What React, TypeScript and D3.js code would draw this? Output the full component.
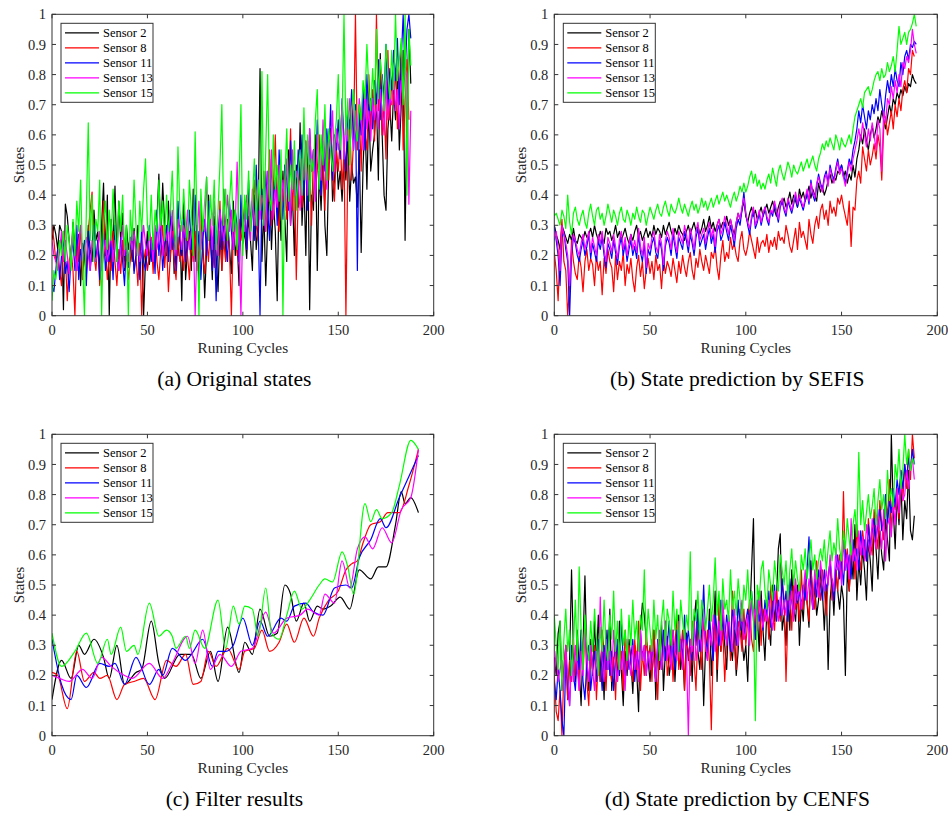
import React from 'react';
import * as d3 from 'd3';

const SENSORS = ['Sensor 2', 'Sensor 8', 'Sensor 11', 'Sensor 13', 'Sensor 15'];
const COLORS = ['#000000', '#ff0000', '#0000ff', '#ff00ff', '#00ff00'];
const X_TICKS = [0, 50, 100, 150, 200];
const Y_TICKS = [0, 0.1, 0.2, 0.3, 0.4, 0.5, 0.6, 0.7, 0.8, 0.9, 1];
const CAPTIONS = ['(a) Original states', '(b) State prediction by SEFIS', '(c) Filter results', '(d) State prediction by CENFS'];
const X_LABEL = 'Runing Cycles';
const Y_LABEL = 'States';

// (a) Original states
const a_s2 = [.25,.30,.27,.22,.30,.28,.02,.37,.33,.25,.18,.31,.22,.15,.27,.10,.24,.20,.13,.30,.22,.18,.35,.25,.28,.14,.30,.44,.20,.40,.00,.32,.22,.43,.18,.38,.25,.34,.15,.30,.22,.26,.18,.29,.20,.30,.15,.26,.00,.19,.28,.17,.22,.24,.18,.32,.47,.25,.44,.30,.20,.38,.18,.33,.14,.25,.20,.30,.05,.38,.12,.22,.28,.15,.42,.18,.30,.10,.36,.25,.06,.22,.40,.28,.12,.33,.20,.08,.28,.15,.42,.18,.32,.22,.14,.38,.20,.25,.10,.35,.24,.28,.19,.33,.25,.15,.40,.22,.30,.82,.18,.35,.10,.30,.45,.22,.38,.28,.05,.42,.25,.48,.32,.18,.55,.30,.40,.20,.50,.36,.64,.30,.45,.20,.58,.02,.40,.35,.60,.15,.48,.35,.55,.30,.20,.50,.62,.38,.45,.55,.42,.48,.38,.52,.45,.60,.38,.50,.44,.46,.36,.55,.21,.50,.65,.42,.70,.48,.55,.60,.72,.45,.87,.60,.40,.35,.62,.70,.58,.75,.65,.80,.55,.70,.88,.25,.70,.95,.77];
const a_s8 = [.30,.25,.18,.22,.15,.10,.28,.20,.05,.18,.22,.15,.00,.25,.18,.30,.12,.22,.15,.28,.35,.41,.20,.15,.25,.10,.18,.38,.22,.12,.20,.15,.28,.18,.10,.22,.14,.25,.16,.20,.12,.18,.25,.15,.20,.10,.24,.00,.18,.22,.15,.20,.26,.14,.28,.18,.12,.22,.30,.16,.25,.08,.20,.28,.18,.12,.26,.18,.22,.15,.30,.20,.12,.25,.18,.28,.15,.22,.35,.20,.14,.26,.18,.30,.22,.16,.28,.20,.38,.15,.25,.18,.30,.22,.00,.28,.35,.20,.32,.25,.30,.38,.22,.42,.28,.35,.45,.30,.25,.40,.32,.48,.28,.38,.55,.30,.42,.60,.35,.28,.45,.38,.50,.32,.42,.62,.35,.48,.12,.40,.52,.36,.45,.58,.38,.50,.30,.55,.42,.48,.60,.40,.52,.35,.58,.45,.62,.50,.38,.55,.48,.60,.42,.55,.00,.50,.65,.45,.58,1.0,.55,.68,.48,.72,.60,.55,.80,.62,.75,.58,1.0,.68,.85,.60,.70,.52,.88,.65,.78,.70,.82,.62,.75,.90,.55,.70,.85,.65];
const a_s11 = [.10,.08,.15,.22,.12,.20,.26,.14,.18,.08,.20,.25,.15,.30,.12,.22,.18,.25,.10,.28,.15,.22,.30,.18,.25,.12,.20,.28,.15,.22,.18,.25,.12,.30,.20,.15,.26,.18,.10,.24,.16,.22,.28,.14,.20,.25,.12,.30,.18,.15,.22,.30,.18,.25,.14,.35,.20,.28,.15,.24,.30,.18,.35,.22,.28,.15,.38,.25,.20,.32,.18,.25,.35,.22,.30,.40,.20,.28,.12,.25,.32,.20,.38,.25,.15,.30,.05,.28,.35,.22,.30,.25,.18,.38,.28,.22,.35,.30,.18,.40,.28,.35,.22,.45,.30,.38,.25,.50,.32,.00,.42,.30,.48,.35,.25,.52,.38,.45,.30,.55,.40,.32,.50,.45,.35,.58,.42,.48,.38,.55,.45,.60,.40,.52,.35,.62,.48,.55,.42,.65,.50,.40,.58,.48,.62,.52,.70,.45,.60,.55,.65,.52,.72,.58,.48,.68,.62,.75,.55,.70,.15,.68,.60,.75,.55,.80,.65,.72,.62,.78,.70,.85,.65,.80,.72,.90,.68,.82,.75,.88,.78,.92,.70,.85,1.0,.80,.95,1.0,.92];
const a_s13 = [.25,.20,.18,.15,.22,.28,.18,.25,.20,.14,.22,.28,.20,.15,.25,.30,.18,.22,.26,.20,.15,.25,.20,.18,.22,.28,.15,.20,.25,.18,.22,.28,.18,.25,.20,.15,.22,.30,.20,.25,.18,.26,.22,.28,.20,.25,.18,.22,.30,.24,.20,.28,.25,.18,.30,.22,.26,.32,.20,.28,.25,.30,.22,.35,.25,.20,.32,.28,.22,.30,.26,.35,.22,.28,.30,.00,.25,.38,.22,.30,.28,.46,.25,.32,.22,.38,.28,.20,.35,.30,.25,.32,.40,.28,.35,.22,.30,.51,.25,.00,.32,.28,.40,.35,.25,.42,.30,.38,.45,.32,.40,.35,.28,.48,.38,.55,.32,.42,.36,.50,.38,.45,.35,.52,.42,.30,.55,.40,.48,.44,.35,.52,.45,.58,.40,.62,.48,.55,.38,.60,.50,.45,.65,.52,.42,.58,.55,.68,.48,.62,.55,.60,.70,.52,.65,.58,.72,.62,.55,.68,.60,.72,.65,.55,.75,.62,.68,.58,.72,.65,.70,.62,.75,.68,.60,.78,.65,.72,.70,.80,.68,.75,.62,.78,.72,.82,.80,.37,.68];
const a_s15 = [.05,.15,.12,.18,.25,.20,.28,.18,.30,.25,.15,.32,.20,.38,.28,.45,.18,.00,.35,.64,.25,.40,.18,.32,.28,.45,.00,.30,.38,.22,.35,.25,.42,.30,.18,.38,.28,.40,.22,.30,.00,.35,.25,.45,.30,.20,.38,.28,.42,.52,.30,.25,.40,.22,.35,.28,.45,.30,.38,.25,.40,.28,.35,.48,.30,.22,.56,.35,.28,.42,.30,.25,.45,.35,.20,.61,.30,.00,.42,.28,.38,.46,.25,.40,.30,.45,.22,.35,.50,.70,.30,.42,.25,.38,.48,.28,.35,.22,.45,.70,.20,.40,.32,.48,.28,.38,.52,.30,.45,.35,.81,.30,.55,.80,.40,.35,.60,.42,.50,.38,.55,.00,.45,.62,.38,.50,.42,.58,.35,.48,.55,.40,.69,.45,.60,.38,.52,.48,.65,.75,.42,.60,.50,.70,.45,.62,.55,.48,.58,.65,.80,.55,.65,1.0,.60,.72,.50,.68,.75,.62,.58,.70,.65,.78,.72,.90,.75,.68,.82,.70,.95,.72,.85,.78,.68,.90,.80,.72,.88,.75,1.0,.78,.85,.92,.70,1.0,.40,.95,.83];

// (b) State prediction by SEFIS
const b_s2 = [.30,.27,.25,.22,.30,.28,.26,.24,.27,.25,.29,.25,.24,.27,.26,.25,.28,.26,.27,.29,.26,.30,.27,.25,.28,.26,.24,.29,.27,.28,.25,.27,.30,.26,.28,.25,.27,.29,.26,.24,.27,.25,.28,.30,.26,.28,.25,.27,.29,.26,.28,.26,.30,.27,.29,.28,.26,.30,.27,.29,.31,.28,.26,.29,.27,.30,.28,.27,.25,.28,.30,.27,.29,.31,.28,.30,.27,.29,.32,.28,.30,.33,.29,.31,.28,.30,.32,.29,.31,.30,.33,.30,.32,.29,.27,.31,.34,.32,.35,.38,.33,.31,.34,.36,.33,.35,.32,.34,.36,.33,.35,.37,.34,.36,.38,.35,.33,.36,.38,.37,.39,.36,.38,.41,.37,.40,.38,.36,.42,.39,.41,.38,.40,.43,.39,.42,.40,.38,.44,.41,.43,.40,.42,.45,.47,.44,.46,.45,.48,.47,.50,.46,.48,.44,.47,.45,.50,.46,.52,.55,.60,.57,.62,.58,.55,.60,.63,.59,.62,.66,.64,.68,.65,.62,.66,.70,.67,.72,.70,.74,.72,.75,.73,.76,.74,.77,.76,.80,.78,.77];
const b_s8 = [.21,.15,.05,.22,.32,.18,.15,.00,.10,.25,.18,.14,.12,.20,.16,.08,.18,.22,.15,.19,.17,.10,.20,.15,.18,.07,.19,.14,.22,.18,.16,.08,.20,.12,.18,.15,.21,.10,.17,.14,.19,.12,.08,.16,.20,.13,.18,.09,.15,.19,.14,.18,.12,.20,.15,.17,.09,.19,.14,.18,.16,.13,.19,.15,.11,.18,.14,.20,.16,.13,.18,.21,.15,.12,.19,.16,.22,.18,.15,.20,.17,.14,.21,.19,.23,.16,.12,.20,.25,.18,.21,.19,.26,.22,.24,.20,.18,.25,.28,.22,.20,.23,.28,.25,.22,.19,.26,.21,.24,.25,.23,.27,.21,.25,.23,.26,.22,.28,.25,.26,.24,.30,.27,.23,.21,.25,.29,.22,.31,.26,.28,.25,.22,.32,.27,.24,.30,.33,.29,.35,.37,.32,.35,.30,.38,.34,.36,.33,.39,.37,.40,.36,.33,.30,.38,.23,.36,.35,.45,.48,.44,.56,.52,.48,.55,.50,.53,.57,.52,.60,.56,.45,.62,.66,.60,.64,.68,.62,.70,.66,.72,.68,.75,.78,.74,.82,.80,.88,.86];
const b_s11 = [.30,.25,.20,.10,.26,.28,.22,.18,.00,.20,.26,.24,.20,.18,.22,.25,.20,.23,.27,.19,.24,.21,.18,.25,.22,.26,.20,.16,.24,.22,.19,.25,.21,.17,.23,.26,.20,.24,.18,.22,.25,.20,.23,.19,.27,.21,.18,.24,.14,.22,.20,.24,.26,.21,.19,.25,.22,.15,.23,.26,.24,.20,.27,.23,.19,.26,.24,.22,.28,.25,.21,.27,.24,.20,.26,.29,.23,.25,.27,.22,.26,.29,.24,.27,.21,.28,.30,.25,.27,.31,.28,.25,.30,.27,.23,.29,.32,.30,.35,.41,.34,.30,.27,.32,.35,.29,.31,.34,.30,.33,.36,.32,.30,.35,.33,.37,.34,.31,.36,.38,.35,.33,.38,.36,.34,.37,.40,.36,.39,.37,.35,.38,.41,.37,.45,.40,.38,.43,.47,.44,.42,.46,.48,.44,.50,.47,.45,.49,.52,.48,.50,.47,.44,.48,.52,.50,.55,.58,.62,.68,.64,.70,.66,.62,.68,.65,.70,.67,.72,.68,.75,.70,.66,.73,.78,.74,.80,.76,.82,.78,.76,.84,.80,.86,.88,.85,.90,.89,.91,.90];
const b_s13 = [.25,.28,.22,.15,.30,.27,.24,.20,.10,.22,.27,.25,.22,.20,.24,.27,.22,.25,.28,.21,.26,.23,.20,.27,.24,.28,.22,.18,.26,.24,.21,.27,.23,.19,.25,.28,.22,.26,.20,.24,.27,.22,.25,.21,.29,.23,.20,.26,.16,.24,.22,.26,.28,.23,.21,.27,.24,.17,.25,.28,.26,.22,.29,.25,.21,.28,.26,.24,.30,.27,.23,.29,.26,.22,.28,.31,.25,.27,.29,.24,.28,.31,.26,.29,.23,.30,.32,.27,.29,.33,.30,.27,.32,.29,.25,.31,.34,.32,.36,.39,.34,.31,.29,.33,.36,.30,.32,.35,.31,.34,.36,.33,.31,.35,.34,.38,.35,.32,.37,.39,.36,.34,.39,.37,.35,.38,.41,.37,.40,.38,.36,.39,.42,.38,.44,.41,.39,.44,.46,.43,.41,.45,.47,.43,.49,.46,.44,.48,.51,.47,.49,.46,.43,.47,.51,.48,.52,.55,.58,.62,.58,.64,.60,.56,.62,.58,.64,.60,.55,.65,.62,.48,.68,.64,.72,.70,.76,.72,.78,.74,.80,.76,.84,.82,.86,.84,.88,.95,.90,.87];
const b_s15 = [.33,.34,.32,.30,.35,.33,.29,.40,.31,.27,.34,.36,.32,.30,.33,.35,.31,.29,.34,.37,.33,.30,.35,.36,.32,.34,.30,.33,.37,.34,.31,.35,.33,.30,.34,.36,.32,.31,.35,.33,.30,.34,.32,.36,.33,.31,.35,.34,.30,.33,.36,.34,.32,.35,.37,.34,.33,.36,.38,.35,.33,.37,.35,.34,.36,.39,.36,.34,.37,.35,.33,.36,.38,.35,.37,.34,.36,.39,.36,.38,.35,.37,.39,.36,.38,.40,.37,.39,.41,.38,.40,.38,.36,.39,.41,.38,.40,.43,.41,.44,.41,.43,.46,.48,.44,.47,.43,.45,.42,.44,.42,.45,.47,.44,.49,.46,.43,.48,.50,.47,.45,.48,.51,.49,.46,.50,.48,.47,.49,.51,.48,.50,.52,.49,.51,.53,.50,.48,.52,.54,.57,.55,.58,.56,.59,.57,.55,.60,.58,.55,.59,.57,.56,.58,.60,.57,.62,.66,.68,.70,.72,.69,.74,.75,.76,.73,.75,.78,.80,.81,.78,.82,.79,.80,.84,.81,.83,.86,.81,.88,.96,.90,.92,.94,.90,.94,.95,.97,1.0,.96];

// (c) Filter results: [cycle, state]
const c_s2 = [[0,.12],[5,.25],[10,.19],[14,.30],[17,.27],[22,.32],[27,.26],[30,.19],[34,.30],[38,.17],[44,.21],[47,.22],[52,.38],[56,.24],[59,.19],[67,.27],[73,.27],[78,.19],[83,.28],[87,.18],[92,.36],[98,.21],[101,.31],[105,.27],[109,.42],[114,.33],[118,.34],[122,.50],[125,.47],[128,.38],[132,.44],[135,.38],[139,.43],[142,.42],[146,.43],[151,.46],[156,.42],[161,.55],[167,.52],[171,.56],[175,.56],[180,.70],[183,.81],[185,.77],[188,.79],[192,.74]];
const c_s8 = [[0,.21],[3,.20],[8,.09],[13,.28],[17,.18],[22,.21],[25,.19],[29,.20],[34,.12],[38,.17],[43,.18],[48,.19],[54,.12],[60,.25],[65,.23],[70,.27],[74,.17],[78,.18],[82,.28],[86,.23],[92,.29],[98,.22],[101,.28],[106,.29],[110,.35],[114,.28],[119,.31],[123,.37],[127,.31],[132,.39],[137,.33],[140,.39],[145,.45],[150,.48],[154,.55],[157,.57],[160,.58],[163,.64],[167,.70],[172,.71],[176,.74],[182,.74],[187,.83],[192,.95]];
const c_s11 = [[0,.32],[5,.17],[10,.12],[13,.20],[18,.16],[25,.24],[30,.23],[33,.24],[38,.17],[44,.26],[51,.17],[56,.22],[58,.20],[63,.29],[70,.25],[73,.27],[79,.32],[84,.23],[87,.28],[91,.28],[95,.30],[100,.39],[105,.30],[109,.38],[113,.33],[120,.39],[123,.38],[127,.43],[133,.44],[137,.41],[142,.40],[148,.49],[154,.50],[157,.49],[161,.59],[167,.65],[172,.72],[175,.69],[182,.79],[187,.86],[192,.93]];
const c_s13 = [[0,.20],[4,.19],[9,.18],[16,.22],[21,.19],[26,.26],[31,.23],[38,.20],[42,.19],[51,.24],[58,.19],[63,.24],[71,.33],[75,.24],[79,.35],[83,.22],[88,.27],[94,.23],[99,.28],[105,.29],[112,.41],[116,.34],[123,.39],[130,.40],[134,.42],[140,.40],[143,.47],[148,.44],[152,.58],[156,.49],[160,.62],[164,.66],[168,.62],[173,.69],[178,.64],[183,.75],[188,.79],[192,.95]];
const c_s15 = [[0,.34],[5,.23],[12,.28],[18,.34],[24,.24],[29,.32],[31,.27],[36,.36],[39,.28],[43,.30],[45,.27],[51,.44],[56,.33],[60,.35],[63,.33],[65,.29],[70,.33],[72,.29],[75,.35],[80,.29],[87,.45],[91,.29],[95,.43],[98,.37],[101,.43],[105,.42],[108,.33],[112,.49],[115,.34],[119,.32],[123,.40],[127,.48],[131,.42],[135,.45],[140,.50],[143,.52],[147,.51],[152,.61],[155,.56],[158,.47],[164,.77],[167,.71],[170,.75],[173,.72],[178,.74],[182,.83],[188,.98],[192,.95]];

// (d) State prediction by CENFS
const d_s2 = [.26,.20,.34,.38,.15,.22,.30,.12,.25,.55,.28,.18,.35,.22,.10,.30,.53,.25,.15,.32,.20,.38,.25,.40,.18,.28,.12,.35,.22,.42,.15,.25,.30,.18,.38,.22,.10,.28,.20,.32,.25,.14,.30,.22,.08,.35,.44,.40,.32,.25,.18,.28,.35,.12,.30,.22,.38,.15,.28,.33,.20,.25,.35,.18,.30,.40,.22,.28,.15,.34,.25,.32,.18,.38,.45,.28,.22,.35,.10,.30,.25,.42,.20,.32,.48,.18,.36,.28,.40,.30,.22,.38,.30,.25,.35,.20,.28,.42,.32,.25,.30,.18,.38,.55,.72,.32,.40,.28,.48,.35,.25,.42,.36,.30,.50,.38,.45,.62,.67,.35,.40,.30,.48,.35,.55,.42,.38,.50,.30,.45,.38,.52,.44,.36,.58,.42,.50,.40,.45,.55,.48,.35,.50,.22,.45,.52,.40,.55,.48,.42,.50,.45,.20,.55,.48,.60,.52,.70,.45,.58,.50,.62,.55,.45,.65,.58,.48,.70,.62,.52,.68,.60,.55,.72,.65,.58,1.0,.75,.62,.80,.70,.85,.65,.78,.72,.88,.68,.65,.73];
const d_s8 = [.20,.08,.05,.15,.00,.22,.30,.12,.25,.18,.32,.20,.28,.15,.35,.22,.38,.18,.10,.28,.22,.30,.12,.25,.18,.35,.28,.15,.30,.22,.18,.26,.12,.32,.20,.28,.15,.35,.22,.30,.25,.18,.32,.22,.38,.15,.28,.20,.35,.25,.30,.18,.35,.25,.12,.32,.22,.28,.38,.20,.25,.35,.18,.30,.40,.22,.28,.35,.15,.32,.28,.20,.38,.25,.15,.35,.30,.22,.40,.28,.35,.25,.02,.30,.38,.22,.45,.28,.35,.18,.32,.40,.25,.48,.30,.22,.38,.35,.28,.42,.30,.38,.45,.32,.28,.40,.35,.48,.30,.42,.38,.45,.32,.50,.40,.35,.48,.42,.38,.52,.45,.18,.40,.48,.35,.52,.42,.46,.38,.55,.42,.50,.45,.38,.55,.48,.42,.58,.50,.45,.55,.48,.40,.52,.58,.45,.50,.55,.48,.60,.52,.81,.55,.62,.48,.58,.65,.52,.70,.60,.55,.68,.62,.58,.72,.65,.60,.75,.68,.62,.78,.70,.65,.80,.72,.85,.68,.78,.75,.82,.72,.88,.78,.90,.82,.95,.85,1.0,.92];
const d_s11 = [.18,.12,.22,.15,.05,.00,.25,.18,.10,.30,.20,.15,.28,.22,.35,.18,.12,.25,.30,.15,.22,.28,.18,.32,.25,.15,.30,.22,.35,.20,.28,.15,.25,.32,.20,.38,.25,.18,.30,.22,.26,.32,.18,.28,.22,.35,.25,.30,.20,.28,.22,.30,.25,.18,.32,.28,.22,.35,.25,.30,.38,.25,.30,.22,.35,.28,.32,.25,.40,.30,.35,.28,.25,.38,.30,.42,.28,.35,.50,.32,.28,.38,.32,.25,.40,.35,.30,.45,.38,.32,.40,.35,.28,.42,.38,.30,.45,.35,.40,.32,.38,.42,.35,.48,.40,.32,.45,.38,.42,.35,.45,.40,.48,.36,.42,.50,.38,.45,.40,.52,.42,.48,.38,.52,.45,.40,.50,.44,.48,.42,.50,.45,.55,.66,.48,.42,.52,.46,.55,.50,.45,.55,.48,.52,.58,.50,.45,.55,.60,.52,.58,.50,.62,.55,.60,.52,.65,.58,.62,.55,.68,.60,.65,.58,.70,.62,.68,.72,.65,.70,.75,.68,.72,.80,.70,.78,.74,.82,.76,.85,.80,.88,.82,.90,.85,.92,.88,.95,.90];
const d_s13 = [.20,.28,.18,.22,.25,.15,.30,.20,.10,.25,.18,.30,.22,.15,.28,.20,.35,.25,.18,.30,.22,.15,.28,.20,.46,.25,.18,.32,.22,.28,.20,.35,.25,.18,.30,.22,.28,.15,.32,.25,.20,.30,.22,.28,.18,.35,.25,.30,.20,.28,.22,.32,.25,.18,.30,.35,.22,.28,.38,.25,.30,.22,.35,.28,.25,.38,.30,.22,.35,.28,.00,.32,.28,.38,.25,.30,.35,.28,.42,.30,.25,.35,.30,.40,.28,.32,.38,.30,.45,.35,.30,.40,.33,.28,.42,.35,.30,.38,.45,.32,.35,.40,.30,.45,.38,.42,.35,.48,.40,.36,.42,.38,.45,.40,.35,.48,.42,.38,.46,.40,.45,.40,.50,.42,.48,.38,.52,.45,.50,.42,.48,.55,.45,.52,.48,.42,.55,.50,.46,.58,.52,.48,.55,.50,.60,.52,.48,.62,.55,.58,.50,.65,.55,.60,.52,.72,.58,.62,.55,.68,.60,.66,.58,.70,.64,.60,.72,.66,.62,.75,.68,.62,.75,.58,.70,.72,.66,.78,.70,.82,.74,.85,.78,.80,.88,.82,.90,.92,.85];
const d_s15 = [.40,.30,.22,.38,.15,.32,.42,.28,.35,.20,.30,.45,.25,.56,.35,.22,.40,.30,.25,.38,.28,.42,.32,.20,.36,.28,.45,.30,.25,.40,.32,.48,.28,.38,.22,.42,.30,.35,.25,.40,.30,.45,.32,.38,.28,.40,.35,.55,.30,.42,.35,.28,.45,.32,.40,.25,.38,.45,.30,.42,.38,.30,.48,.35,.42,.28,.45,.38,.32,.40,.35,.61,.30,.42,.38,.48,.32,.45,.40,.35,.42,.50,.38,.45,.59,.40,.48,.35,.52,.42,.45,.38,.55,.42,.48,.40,.52,.45,.38,.50,.45,.55,.42,.48,.40,.05,.50,.45,.55,.58,.48,.42,.55,.50,.45,.58,.52,.48,.60,.55,.50,.58,.45,.55,.62,.50,.58,.52,.48,.60,.55,.62,.52,.58,.65,.55,.60,.52,.58,.62,.58,.65,.55,.62,.68,.58,.64,.60,.72,.62,.58,.68,.62,.72,.65,.60,.70,.75,.66,.94,.70,.78,.68,.74,.80,.72,.76,.82,.70,.78,.85,.75,.80,.72,.88,.78,.82,.76,.90,.85,.95,.82,.88,1.0,.90,.95,.88,.92,.90];

const idx = (arr: number[]) => arr.map((v, i) => [i, v] as [number, number]);

const PANEL_DATA = [
  { series: [a_s2, a_s8, a_s11, a_s13, a_s15].map(idx), smooth: false },
  { series: [b_s2, b_s8, b_s11, b_s13, b_s15].map(idx), smooth: false },
  { series: [c_s2, c_s8, c_s11, c_s13, c_s15] as [number, number][][], smooth: true },
  { series: [d_s2, d_s8, d_s11, d_s13, d_s15].map(idx), smooth: false },
];

const LAYOUT = [
  { left: 52, top: 14.3, w: 381.7, h: 301.4 },
  { left: 554.3, top: 14.3, w: 383, h: 301.4 },
  { left: 52, top: 434.3, w: 381.7, h: 301.4 },
  { left: 554.3, top: 434.3, w: 383, h: 301.4 },
];

const FONT = "'Liberation Serif', 'Times New Roman', Times, serif";
const AX = '#333333';

function Panel({ k, left, top, w, h, series, smooth, caption }: any) {
  const x = d3.scaleLinear().domain([0, 200]).range([0, w]);
  const y = d3.scaleLinear().domain([0, 1]).range([h, 0]);
  const line = d3.line<[number, number]>().x(d => x(d[0])).y(d => y(d[1]));
  if (smooth) line.curve(d3.curveMonotoneX);
  const fmt = d3.format('~g');
  const clipId = `clip-${k}`;
  return (
    <g transform={`translate(${left},${top})`}>
      <defs>
        <clipPath id={clipId}><rect x={0} y={0} width={w} height={h} /></clipPath>
      </defs>
      <g clipPath={`url(#${clipId})`}>
        {series.map((s: [number, number][], i: number) => (
          <path key={i} d={line(s) || ''} fill="none" stroke={COLORS[i]} strokeWidth={1.2} strokeLinejoin="round" />
        ))}
      </g>
      <rect x={0} y={0} width={w} height={h} fill="none" stroke={AX} strokeWidth={1} />
      {X_TICKS.map(t => (
        <g key={`x${t}`}>
          <line x1={x(t)} x2={x(t)} y1={h} y2={h - 4} stroke={AX} />
          <line x1={x(t)} x2={x(t)} y1={0} y2={4} stroke={AX} />
          <text x={x(t)} y={h + 19.5} textAnchor="middle" fontSize={14.5} fill="#262626" fontFamily={FONT}>{fmt(t)}</text>
        </g>
      ))}
      {Y_TICKS.map(t => (
        <g key={`y${t}`}>
          <line x1={0} x2={4} y1={y(t)} y2={y(t)} stroke={AX} />
          <line x1={w} x2={w - 4} y1={y(t)} y2={y(t)} stroke={AX} />
          <text x={-6} y={y(t)} dy="0.35em" textAnchor="end" fontSize={14.5} fill="#262626" fontFamily={FONT}>{fmt(t)}</text>
        </g>
      ))}
      <text x={w / 2} y={h + 37.5} textAnchor="middle" fontSize={15.3} fill="#262626" fontFamily={FONT}>{X_LABEL}</text>
      <text transform={`translate(${-28.5},${h / 2}) rotate(-90)`} textAnchor="middle" fontSize={15.3} fill="#262626" fontFamily={FONT}>{Y_LABEL}</text>
      <g transform="translate(9,9)">
        <rect x={0} y={0} width={92} height={79} fill="#ffffff" stroke={AX} strokeWidth={1} />
        {SENSORS.map((s, i) => (
          <g key={s} transform={`translate(0,${9.5 + i * 15})`}>
            <line x1={4} x2={38} y1={0} y2={0} stroke={COLORS[i]} strokeWidth={1.2} />
            <text x={42} y={0} dy="0.35em" fontSize={12.5} fill="#000" fontFamily={FONT}>{s}</text>
          </g>
        ))}
      </g>
      <text x={w / 2 - 8.5} y={h + 70.5} textAnchor="middle" fontSize={21.5} fill="#000" fontFamily={FONT}>{caption}</text>
    </g>
  );
}

export default function App() {
  return (
    <svg width={948} height={813} viewBox="0 0 948 813" style={{ position: 'absolute', left: 0, top: 0, background: '#fff' }}>
      <rect x={0} y={0} width={948} height={813} fill="#ffffff" />
      {LAYOUT.map((l, i) => (
        <Panel key={i} k={i} {...l} series={PANEL_DATA[i].series} smooth={PANEL_DATA[i].smooth} caption={CAPTIONS[i]} />
      ))}
    </svg>
  );
}
